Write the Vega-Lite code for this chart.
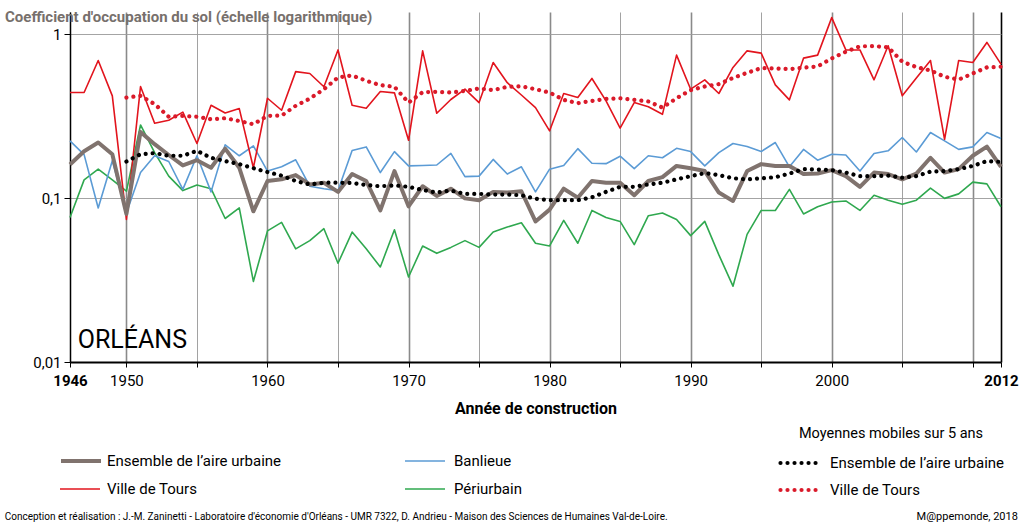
{
  "$schema": "https://vega.github.io/schema/vega-lite/v6.json",
  "width": 931,
  "height": 350,
  "autosize": {"type": "none"},
  "padding": {"left": 70, "top": 12, "right": 23, "bottom": 162},
  "background": "white",
  "title": {
    "text": "Coefficient d'occupation du sol (échelle logarithmique)",
    "anchor": "start",
    "frame": "group",
    "dx": -65,
    "dy": 17,
    "offset": -8,
    "baseline": "alphabetic",
    "fontSize": 15,
    "fontWeight": "bold",
    "color": "#77706c"
  },
  "config": {
    "view": {"stroke": null},
    "font": "Roboto",
    "axis": {"labelColor": "#000", "titleColor": "#000"}
  },
  "datasets": {
    "brut": [
      {"annee": 1946, "Ensemble de l’aire urbaine": 0.160, "Banlieue": 0.223, "Ville de Tours": 0.44, "Périurbain": 0.076},
      {"annee": 1947, "Ensemble de l’aire urbaine": 0.193, "Banlieue": 0.184, "Ville de Tours": 0.44, "Périurbain": 0.129},
      {"annee": 1948, "Ensemble de l’aire urbaine": 0.218, "Banlieue": 0.087, "Ville de Tours": 0.69, "Périurbain": 0.150},
      {"annee": 1949, "Ensemble de l’aire urbaine": 0.185, "Banlieue": 0.169, "Ville de Tours": 0.42, "Périurbain": 0.129},
      {"annee": 1950, "Ensemble de l’aire urbaine": 0.080, "Banlieue": 0.081, "Ville de Tours": 0.074, "Périurbain": 0.110},
      {"annee": 1951, "Ensemble de l’aire urbaine": 0.253, "Banlieue": 0.143, "Ville de Tours": 0.479, "Périurbain": 0.279},
      {"annee": 1952, "Ensemble de l’aire urbaine": 0.213, "Banlieue": 0.181, "Ville de Tours": 0.286, "Périurbain": 0.189},
      {"annee": 1953, "Ensemble de l’aire urbaine": 0.183, "Banlieue": 0.167, "Ville de Tours": 0.298, "Périurbain": 0.136},
      {"annee": 1954, "Ensemble de l’aire urbaine": 0.158, "Banlieue": 0.113, "Ville de Tours": 0.334, "Périurbain": 0.111},
      {"annee": 1955, "Ensemble de l’aire urbaine": 0.170, "Banlieue": 0.181, "Ville de Tours": 0.215, "Périurbain": 0.120},
      {"annee": 1956, "Ensemble de l’aire urbaine": 0.153, "Banlieue": 0.109, "Ville de Tours": 0.368, "Périurbain": 0.114},
      {"annee": 1957, "Ensemble de l’aire urbaine": 0.200, "Banlieue": 0.211, "Ville de Tours": 0.330, "Périurbain": 0.075},
      {"annee": 1958, "Ensemble de l’aire urbaine": 0.153, "Banlieue": 0.181, "Ville de Tours": 0.351, "Périurbain": 0.087},
      {"annee": 1959, "Ensemble de l’aire urbaine": 0.083, "Banlieue": 0.208, "Ville de Tours": 0.153, "Périurbain": 0.031},
      {"annee": 1960, "Ensemble de l’aire urbaine": 0.127, "Banlieue": 0.146, "Ville de Tours": 0.406, "Périurbain": 0.063},
      {"annee": 1961, "Ensemble de l’aire urbaine": 0.130, "Banlieue": 0.155, "Ville de Tours": 0.343, "Périurbain": 0.071},
      {"annee": 1962, "Ensemble de l’aire urbaine": 0.138, "Banlieue": 0.171, "Ville de Tours": 0.59, "Périurbain": 0.049},
      {"annee": 1963, "Ensemble de l’aire urbaine": 0.121, "Banlieue": 0.118, "Ville de Tours": 0.575, "Périurbain": 0.055},
      {"annee": 1964, "Ensemble de l’aire urbaine": 0.124, "Banlieue": 0.114, "Ville de Tours": 0.477, "Périurbain": 0.065},
      {"annee": 1965, "Ensemble de l’aire urbaine": 0.109, "Banlieue": 0.111, "Ville de Tours": 0.80, "Périurbain": 0.040},
      {"annee": 1966, "Ensemble de l’aire urbaine": 0.140, "Banlieue": 0.195, "Ville de Tours": 0.368, "Périurbain": 0.062},
      {"annee": 1967, "Ensemble de l’aire urbaine": 0.127, "Banlieue": 0.205, "Ville de Tours": 0.353, "Périurbain": 0.049},
      {"annee": 1968, "Ensemble de l’aire urbaine": 0.084, "Banlieue": 0.143, "Ville de Tours": 0.446, "Périurbain": 0.038},
      {"annee": 1969, "Ensemble de l’aire urbaine": 0.146, "Banlieue": 0.192, "Ville de Tours": 0.438, "Périurbain": 0.064},
      {"annee": 1970, "Ensemble de l’aire urbaine": 0.089, "Banlieue": 0.157, "Ville de Tours": 0.225, "Périurbain": 0.033},
      {"annee": 1971, "Ensemble de l’aire urbaine": 0.118, "Banlieue": 0.158, "Ville de Tours": 0.79, "Périurbain": 0.051},
      {"annee": 1972, "Ensemble de l’aire urbaine": 0.103, "Banlieue": 0.159, "Ville de Tours": 0.329, "Périurbain": 0.046},
      {"annee": 1973, "Ensemble de l’aire urbaine": 0.114, "Banlieue": 0.187, "Ville de Tours": 0.399, "Périurbain": 0.050},
      {"annee": 1974, "Ensemble de l’aire urbaine": 0.0995, "Banlieue": 0.135, "Ville de Tours": 0.461, "Périurbain": 0.055},
      {"annee": 1975, "Ensemble de l’aire urbaine": 0.097, "Banlieue": 0.136, "Ville de Tours": 0.382, "Périurbain": 0.050},
      {"annee": 1976, "Ensemble de l’aire urbaine": 0.109, "Banlieue": 0.172, "Ville de Tours": 0.671, "Périurbain": 0.062},
      {"annee": 1977, "Ensemble de l’aire urbaine": 0.108, "Banlieue": 0.140, "Ville de Tours": 0.505, "Périurbain": 0.0665},
      {"annee": 1978, "Ensemble de l’aire urbaine": 0.110, "Banlieue": 0.155, "Ville de Tours": 0.425, "Périurbain": 0.0707},
      {"annee": 1979, "Ensemble de l’aire urbaine": 0.072, "Banlieue": 0.109, "Ville de Tours": 0.356, "Périurbain": 0.053},
      {"annee": 1980, "Ensemble de l’aire urbaine": 0.085, "Banlieue": 0.150, "Ville de Tours": 0.257, "Périurbain": 0.051},
      {"annee": 1981, "Ensemble de l’aire urbaine": 0.114, "Banlieue": 0.158, "Ville de Tours": 0.434, "Périurbain": 0.073},
      {"annee": 1982, "Ensemble de l’aire urbaine": 0.1005, "Banlieue": 0.200, "Ville de Tours": 0.41, "Périurbain": 0.053},
      {"annee": 1983, "Ensemble de l’aire urbaine": 0.127, "Banlieue": 0.163, "Ville de Tours": 0.536, "Périurbain": 0.084},
      {"annee": 1984, "Ensemble de l’aire urbaine": 0.124, "Banlieue": 0.162, "Ville de Tours": 0.391, "Périurbain": 0.076},
      {"annee": 1985, "Ensemble de l’aire urbaine": 0.124, "Banlieue": 0.180, "Ville de Tours": 0.267, "Périurbain": 0.072},
      {"annee": 1986, "Ensemble de l’aire urbaine": 0.104, "Banlieue": 0.151, "Ville de Tours": 0.382, "Périurbain": 0.052},
      {"annee": 1987, "Ensemble de l’aire urbaine": 0.127, "Banlieue": 0.181, "Ville de Tours": 0.36, "Périurbain": 0.078},
      {"annee": 1988, "Ensemble de l’aire urbaine": 0.134, "Banlieue": 0.176, "Ville de Tours": 0.324, "Périurbain": 0.081},
      {"annee": 1989, "Ensemble de l’aire urbaine": 0.157, "Banlieue": 0.201, "Ville de Tours": 0.744, "Périurbain": 0.074},
      {"annee": 1990, "Ensemble de l’aire urbaine": 0.152, "Banlieue": 0.192, "Ville de Tours": 0.461, "Périurbain": 0.059},
      {"annee": 1991, "Ensemble de l’aire urbaine": 0.146, "Banlieue": 0.157, "Ville de Tours": 0.526, "Périurbain": 0.072},
      {"annee": 1992, "Ensemble de l’aire urbaine": 0.108, "Banlieue": 0.189, "Ville de Tours": 0.434, "Périurbain": 0.045},
      {"annee": 1993, "Ensemble de l’aire urbaine": 0.096, "Banlieue": 0.215, "Ville de Tours": 0.626, "Périurbain": 0.029},
      {"annee": 1994, "Ensemble de l’aire urbaine": 0.146, "Banlieue": 0.206, "Ville de Tours": 0.79, "Périurbain": 0.060},
      {"annee": 1995, "Ensemble de l’aire urbaine": 0.161, "Banlieue": 0.192, "Ville de Tours": 0.765, "Périurbain": 0.084},
      {"annee": 1996, "Ensemble de l’aire urbaine": 0.157, "Banlieue": 0.218, "Ville de Tours": 0.49, "Périurbain": 0.084},
      {"annee": 1997, "Ensemble de l’aire urbaine": 0.157, "Banlieue": 0.155, "Ville de Tours": 0.397, "Périurbain": 0.113},
      {"annee": 1998, "Ensemble de l’aire urbaine": 0.140, "Banlieue": 0.198, "Ville de Tours": 0.713, "Périurbain": 0.080},
      {"annee": 1999, "Ensemble de l’aire urbaine": 0.141, "Banlieue": 0.170, "Ville de Tours": 0.744, "Périurbain": 0.0885},
      {"annee": 2000, "Ensemble de l’aire urbaine": 0.148, "Banlieue": 0.185, "Ville de Tours": 1.26, "Périurbain": 0.0945},
      {"annee": 2001, "Ensemble de l’aire urbaine": 0.136, "Banlieue": 0.183, "Ville de Tours": 0.80, "Périurbain": 0.096},
      {"annee": 2002, "Ensemble de l’aire urbaine": 0.117, "Banlieue": 0.146, "Ville de Tours": 0.80, "Périurbain": 0.084},
      {"annee": 2003, "Ensemble de l’aire urbaine": 0.143, "Banlieue": 0.187, "Ville de Tours": 0.526, "Périurbain": 0.104},
      {"annee": 2004, "Ensemble de l’aire urbaine": 0.140, "Banlieue": 0.194, "Ville de Tours": 0.849, "Périurbain": 0.097},
      {"annee": 2005, "Ensemble de l’aire urbaine": 0.130, "Banlieue": 0.234, "Ville de Tours": 0.42, "Périurbain": 0.0915},
      {"annee": 2006, "Ensemble de l’aire urbaine": 0.141, "Banlieue": 0.191, "Ville de Tours": 0.539, "Périurbain": 0.097},
      {"annee": 2007, "Ensemble de l’aire urbaine": 0.176, "Banlieue": 0.251, "Ville de Tours": 0.69, "Périurbain": 0.115},
      {"annee": 2008, "Ensemble de l’aire urbaine": 0.143, "Banlieue": 0.223, "Ville de Tours": 0.228, "Périurbain": 0.0995},
      {"annee": 2009, "Ensemble de l’aire urbaine": 0.150, "Banlieue": 0.198, "Ville de Tours": 0.69, "Périurbain": 0.106},
      {"annee": 2010, "Ensemble de l’aire urbaine": 0.181, "Banlieue": 0.205, "Ville de Tours": 0.671, "Périurbain": 0.125},
      {"annee": 2011, "Ensemble de l’aire urbaine": 0.206, "Banlieue": 0.251, "Ville de Tours": 0.889, "Périurbain": 0.122},
      {"annee": 2012, "Ensemble de l’aire urbaine": 0.155, "Banlieue": 0.231, "Ville de Tours": 0.655, "Périurbain": 0.0885}
    ],
    "moyennes": [
      {"annee": 1950, "Ensemble de l’aire urbaine": 0.167, "Ville de Tours": 0.41},
      {"annee": 1951, "Ensemble de l’aire urbaine": 0.185, "Ville de Tours": 0.42},
      {"annee": 1952, "Ensemble de l’aire urbaine": 0.188, "Ville de Tours": 0.374},
      {"annee": 1953, "Ensemble de l’aire urbaine": 0.181, "Ville de Tours": 0.313},
      {"annee": 1954, "Ensemble de l’aire urbaine": 0.181, "Ville de Tours": 0.317},
      {"annee": 1955, "Ensemble de l’aire urbaine": 0.194, "Ville de Tours": 0.313},
      {"annee": 1956, "Ensemble de l’aire urbaine": 0.176, "Ville de Tours": 0.302},
      {"annee": 1957, "Ensemble de l’aire urbaine": 0.168, "Ville de Tours": 0.307},
      {"annee": 1958, "Ensemble de l’aire urbaine": 0.161, "Ville de Tours": 0.295},
      {"annee": 1959, "Ensemble de l’aire urbaine": 0.152, "Ville de Tours": 0.282},
      {"annee": 1960, "Ensemble de l’aire urbaine": 0.144, "Ville de Tours": 0.317},
      {"annee": 1961, "Ensemble de l’aire urbaine": 0.137, "Ville de Tours": 0.318},
      {"annee": 1962, "Ensemble de l’aire urbaine": 0.127, "Ville de Tours": 0.365},
      {"annee": 1963, "Ensemble de l’aire urbaine": 0.121, "Ville de Tours": 0.404},
      {"annee": 1964, "Ensemble de l’aire urbaine": 0.124, "Ville de Tours": 0.461},
      {"annee": 1965, "Ensemble de l’aire urbaine": 0.124, "Ville de Tours": 0.544},
      {"annee": 1966, "Ensemble de l’aire urbaine": 0.1235, "Ville de Tours": 0.559},
      {"annee": 1967, "Ensemble de l’aire urbaine": 0.120, "Ville de Tours": 0.519},
      {"annee": 1968, "Ensemble de l’aire urbaine": 0.118, "Ville de Tours": 0.488},
      {"annee": 1969, "Ensemble de l’aire urbaine": 0.1195, "Ville de Tours": 0.477},
      {"annee": 1970, "Ensemble de l’aire urbaine": 0.117, "Ville de Tours": 0.382},
      {"annee": 1971, "Ensemble de l’aire urbaine": 0.112, "Ville de Tours": 0.442},
      {"annee": 1972, "Ensemble de l’aire urbaine": 0.108, "Ville de Tours": 0.444},
      {"annee": 1973, "Ensemble de l’aire urbaine": 0.111, "Ville de Tours": 0.44},
      {"annee": 1974, "Ensemble de l’aire urbaine": 0.106, "Ville de Tours": 0.45},
      {"annee": 1975, "Ensemble de l’aire urbaine": 0.106, "Ville de Tours": 0.466},
      {"annee": 1976, "Ensemble de l’aire urbaine": 0.105, "Ville de Tours": 0.455},
      {"annee": 1977, "Ensemble de l’aire urbaine": 0.105, "Ville de Tours": 0.477},
      {"annee": 1978, "Ensemble de l’aire urbaine": 0.104, "Ville de Tours": 0.48},
      {"annee": 1979, "Ensemble de l’aire urbaine": 0.099, "Ville de Tours": 0.461},
      {"annee": 1980, "Ensemble de l’aire urbaine": 0.097, "Ville de Tours": 0.44},
      {"annee": 1981, "Ensemble de l’aire urbaine": 0.097, "Ville de Tours": 0.397},
      {"annee": 1982, "Ensemble de l’aire urbaine": 0.097, "Ville de Tours": 0.379},
      {"annee": 1983, "Ensemble de l’aire urbaine": 0.101, "Ville de Tours": 0.391},
      {"annee": 1984, "Ensemble de l’aire urbaine": 0.109, "Ville de Tours": 0.402},
      {"annee": 1985, "Ensemble de l’aire urbaine": 0.117, "Ville de Tours": 0.406},
      {"annee": 1986, "Ensemble de l’aire urbaine": 0.117, "Ville de Tours": 0.397},
      {"annee": 1987, "Ensemble de l’aire urbaine": 0.121, "Ville de Tours": 0.388},
      {"annee": 1988, "Ensemble de l’aire urbaine": 0.124, "Ville de Tours": 0.356},
      {"annee": 1989, "Ensemble de l’aire urbaine": 0.130, "Ville de Tours": 0.406},
      {"annee": 1990, "Ensemble de l’aire urbaine": 0.136, "Ville de Tours": 0.455},
      {"annee": 1991, "Ensemble de l’aire urbaine": 0.142, "Ville de Tours": 0.479},
      {"annee": 1992, "Ensemble de l’aire urbaine": 0.138, "Ville de Tours": 0.495},
      {"annee": 1993, "Ensemble de l’aire urbaine": 0.132, "Ville de Tours": 0.54},
      {"annee": 1994, "Ensemble de l’aire urbaine": 0.130, "Ville de Tours": 0.58},
      {"annee": 1995, "Ensemble de l’aire urbaine": 0.132, "Ville de Tours": 0.62},
      {"annee": 1996, "Ensemble de l’aire urbaine": 0.134, "Ville de Tours": 0.617},
      {"annee": 1997, "Ensemble de l’aire urbaine": 0.141, "Ville de Tours": 0.611},
      {"annee": 1998, "Ensemble de l’aire urbaine": 0.150, "Ville de Tours": 0.623},
      {"annee": 1999, "Ensemble de l’aire urbaine": 0.149, "Ville de Tours": 0.635},
      {"annee": 2000, "Ensemble de l’aire urbaine": 0.148, "Ville de Tours": 0.71},
      {"annee": 2001, "Ensemble de l’aire urbaine": 0.143, "Ville de Tours": 0.78},
      {"annee": 2002, "Ensemble de l’aire urbaine": 0.136, "Ville de Tours": 0.841},
      {"annee": 2003, "Ensemble de l’aire urbaine": 0.136, "Ville de Tours": 0.845},
      {"annee": 2004, "Ensemble de l’aire urbaine": 0.137, "Ville de Tours": 0.829},
      {"annee": 2005, "Ensemble de l’aire urbaine": 0.133, "Ville de Tours": 0.678},
      {"annee": 2006, "Ensemble de l’aire urbaine": 0.136, "Ville de Tours": 0.629},
      {"annee": 2007, "Ensemble de l’aire urbaine": 0.145, "Ville de Tours": 0.60},
      {"annee": 2008, "Ensemble de l’aire urbaine": 0.146, "Ville de Tours": 0.549},
      {"annee": 2009, "Ensemble de l’aire urbaine": 0.150, "Ville de Tours": 0.528},
      {"annee": 2010, "Ensemble de l’aire urbaine": 0.157, "Ville de Tours": 0.575},
      {"annee": 2011, "Ensemble de l’aire urbaine": 0.168, "Ville de Tours": 0.626},
      {"annee": 2012, "Ensemble de l’aire urbaine": 0.166, "Ville de Tours": 0.632}
    ]
  },
  "layer": [
    {
      "data": {"name": "brut"},
      "transform": [
        {"fold": ["Périurbain", "Banlieue"], "as": ["zone", "valeur"]}
      ],
      "mark": {"type": "line", "strokeJoin": "round", "strokeWidth": 1.6},
      "encoding": {
        "x": {
          "field": "annee",
          "type": "quantitative",
          "scale": {"domain": [1946, 2012], "nice": false, "zero": false},
          "axis": {
            "values": [1946, 1950, 1955, 1960, 1965, 1970, 1975, 1980, 1985, 1990, 1995, 2000, 2005, 2010, 2012],
            "labelExpr": "indexof([1946, 1950, 1960, 1970, 1980, 1990, 2000, 2012], datum.value) >= 0 ? '' + datum.value : ''",
            "labelFlush": false,
            "labelOverlap": false,
            "labelFontSize": 15,
            "labelPadding": 6,
            "labelFontWeight": {"condition": {"test": "datum.value == 1946 || datum.value == 2012", "value": "bold"}, "value": "normal"},
            "grid": true,
            "gridColor": {"condition": {"test": "datum.value == 2012 || datum.value == 1946", "value": "#000000"}, "value": "#8a8a8a"},
            "gridWidth": {"condition": {"test": "datum.value % 10 == 0 || datum.value == 2012", "value": 1.6}, "value": 0.8},
            "domainColor": "#000000",
            "domainWidth": 2,
            "tickColor": "#000000",
            "tickSize": 5,
            "title": "Année de construction",
            "titleFontSize": 16,
            "titleFontWeight": "bold",
            "titlePadding": 12
          }
        },
        "y": {
          "field": "valeur",
          "type": "quantitative",
          "scale": {"type": "log", "domain": [0.01, 1.363], "nice": false},
          "axis": {
            "values": [0.01, 0.1, 1],
            "labelExpr": "datum.value >= 0.9 ? '1' : datum.value >= 0.09 ? '0,1' : '0,01'",
            "title": null,
            "grid": true,
            "gridColor": "#9a9a9a",
            "gridWidth": 0.9,
            "domainColor": "#000000",
            "domainWidth": 1.5,
            "tickColor": "#000000",
            "tickSize": 6,
            "labelFontSize": 15,
            "labelPadding": 3
          }
        },
        "color": {
          "field": "zone",
          "type": "nominal",
          "scale": {
            "domain": ["Banlieue", "Périurbain"],
            "range": ["#5b9bd5", "#2fa84f"]
          },
          "legend": {
            "orient": "none",
            "legendX": 334,
            "legendY": 435,
            "clipHeight": 28,
            "rowPadding": 0,
            "symbolType": "stroke",
            "symbolSize": 1600,
            "symbolStrokeWidth": 1.6,
            "labelFontSize": 15,
            "labelOffset": 8,
            "labelLimit": 400,
            "labelColor": "#000000",
            "title": null
          }
        }
      }
    },
    {
      "data": {"name": "brut"},
      "transform": [
        {"fold": ["Ville de Tours"], "as": ["ville", "valeur"]}
      ],
      "mark": {"type": "line", "strokeJoin": "round", "strokeWidth": 1.6},
      "encoding": {
        "x": {"field": "annee", "type": "quantitative"},
        "y": {"field": "valeur", "type": "quantitative"},
        "color": {
          "field": "ville",
          "type": "nominal",
          "scale": {"domain": ["Ville de Tours"], "range": ["#e2141d"]},
          "legend": {
            "orient": "none",
            "legendX": -11,
            "legendY": 463,
            "clipHeight": 28,
            "symbolType": "stroke",
            "symbolSize": 1600,
            "symbolStrokeWidth": 1.6,
            "labelFontSize": 15,
            "labelOffset": 6,
            "labelLimit": 400,
            "labelColor": "#000000",
            "title": null
          }
        }
      }
    },
    {
      "data": {"name": "brut"},
      "transform": [
        {"fold": ["Ensemble de l’aire urbaine"], "as": ["ensemble", "valeur"]}
      ],
      "mark": {"type": "line", "strokeJoin": "round", "strokeWidth": 4},
      "encoding": {
        "x": {"field": "annee", "type": "quantitative"},
        "y": {"field": "valeur", "type": "quantitative"},
        "color": {
          "field": "ensemble",
          "type": "nominal",
          "scale": {"domain": ["Ensemble de l’aire urbaine"], "range": ["#80736e"]},
          "legend": {
            "orient": "none",
            "legendX": -11,
            "legendY": 435,
            "clipHeight": 28,
            "symbolType": "stroke",
            "symbolSize": 1600,
            "symbolStrokeWidth": 4,
            "labelFontSize": 15,
            "labelOffset": 4,
            "labelLimit": 400,
            "labelColor": "#000000",
            "title": null
          }
        }
      }
    },
    {
      "data": {"name": "moyennes"},
      "transform": [
        {"fold": ["Ville de Tours", "Ensemble de l’aire urbaine"], "as": ["moyenne", "valeur"]}
      ],
      "mark": {"type": "line", "strokeDash": [0.01, 7], "strokeCap": "round", "strokeWidth": 4.2},
      "encoding": {
        "x": {"field": "annee", "type": "quantitative"},
        "y": {"field": "valeur", "type": "quantitative"},
        "color": {
          "field": "moyenne",
          "type": "nominal",
          "scale": {
            "domain": ["Ensemble de l’aire urbaine", "Ville de Tours"],
            "range": ["#000000", "#da1a2a"]
          },
          "legend": {
            "orient": "none",
            "legendX": 708,
            "legendY": 415,
            "title": "Moyennes mobiles sur 5 ans",
            "titleFontSize": 14.5,
            "titleFontWeight": "normal",
            "titleColor": "#000000",
            "titleAnchor": "middle",
            "titleLimit": 400,
            "titlePadding": 8,
            "clipHeight": 27,
            "rowPadding": 0,
            "symbolType": "stroke",
            "symbolSize": 1764,
            "symbolDash": [0.01, 7],
            "symbolStrokeWidth": 4.2,
            "labelFontSize": 15,
            "labelOffset": 5,
            "labelLimit": 400,
            "labelColor": "#000000",
            "encode": {"symbols": {"update": {"strokeCap": {"value": "round"}}}}
          }
        }
      }
    },
    {
      "data": {"values": [{}]},
      "mark": {"type": "text", "text": "ORLÉANS", "fontSize": 25, "align": "left", "baseline": "alphabetic", "color": "#000000"},
      "encoding": {
        "x": {"datum": 1946.55, "type": "quantitative"},
        "y": {"datum": 0.01213, "type": "quantitative"}
      }
    },
    {
      "data": {"values": [{}]},
      "mark": {"type": "text", "text": "Conception et réalisation : J.-M. Zaninetti - Laboratoire d'économie d'Orléans - UMR 7322,  D. Andrieu - Maison des Sciences de Humaines Val-de-Loire.", "fontSize": 10, "align": "left", "baseline": "middle", "color": "#000000"},
      "encoding": {
        "x": {"datum": 1941.37, "type": "quantitative"},
        "y": {"datum": 0.00114, "type": "quantitative"}
      }
    },
    {
      "data": {"values": [{}]},
      "mark": {"type": "text", "text": "M@ppemonde, 2018", "fontSize": 11, "align": "right", "baseline": "middle", "color": "#000000"},
      "encoding": {
        "x": {"datum": 2013.2, "type": "quantitative"},
        "y": {"datum": 0.00114, "type": "quantitative"}
      }
    }
  ],
  "resolve": {"scale": {"color": "independent"}, "legend": {"color": "independent"}}
}
